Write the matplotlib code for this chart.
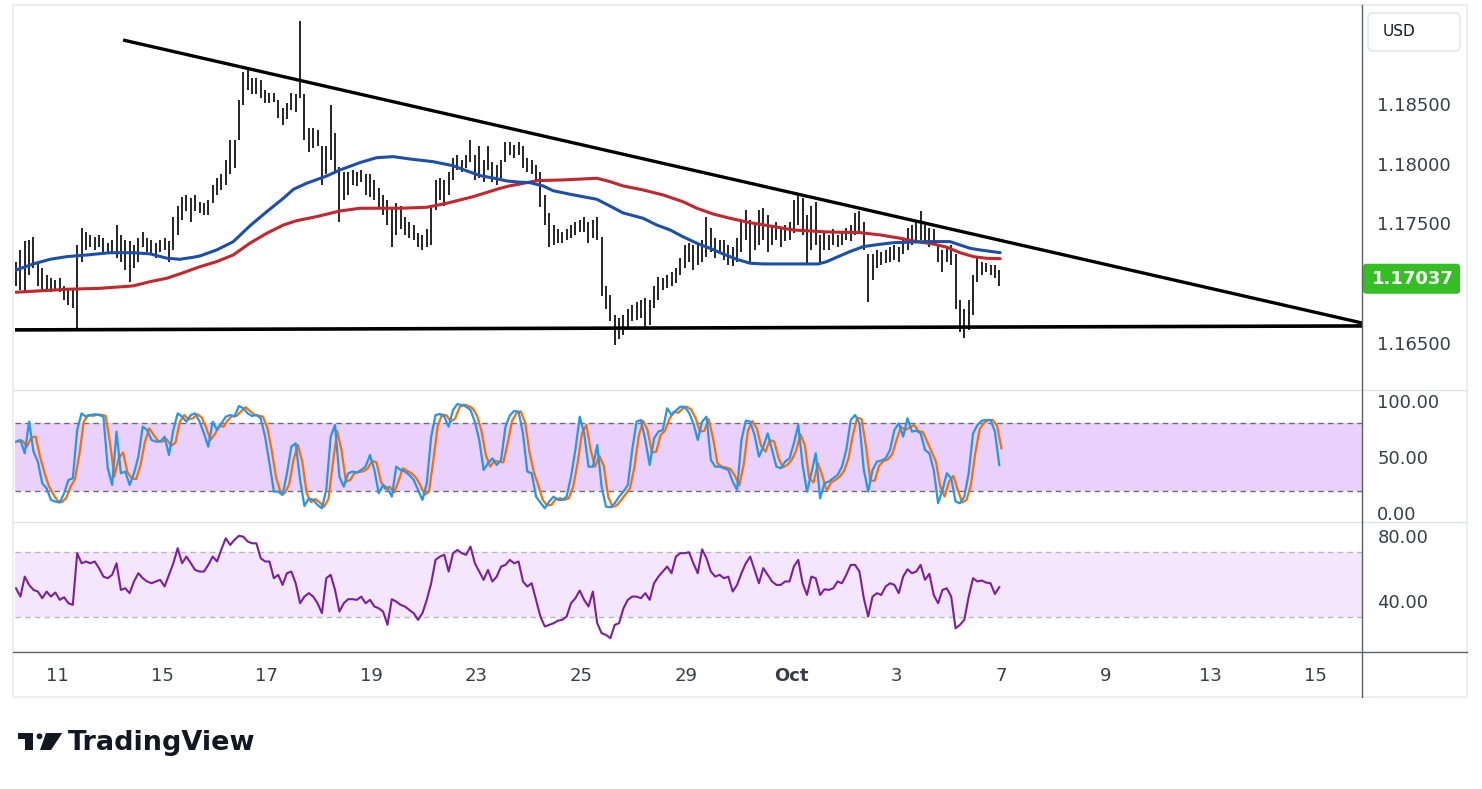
import numpy as np
import pandas as pd
import matplotlib
matplotlib.use('Agg')
import matplotlib.pyplot as plt
from matplotlib.patches import FancyBboxPatch, Rectangle, Polygon, Circle
from matplotlib.lines import Line2D
from matplotlib.transforms import IdentityTransform

# ---------------- data (2-hour bars, EUR/USD) ----------------
highs = [1.1718, 1.1728, 1.1735, 1.1736, 1.1739, 1.1718, 1.1713, 1.1707, 1.1704, 1.1703,
         1.1704, 1.1698, 1.1696, 1.1694, 1.1732, 1.1746, 1.1743, 1.1740, 1.1739, 1.1740,
         1.1738, 1.1734, 1.1736, 1.1749, 1.1740, 1.1736, 1.1735, 1.1732, 1.1738, 1.1743,
         1.1738, 1.1736, 1.1734, 1.1736, 1.1738, 1.1735, 1.1755, 1.1765, 1.1772, 1.1774,
         1.1771, 1.1774, 1.1768, 1.1767, 1.1770, 1.1782, 1.1788, 1.1791, 1.1803, 1.1820,
         1.1820, 1.1853, 1.1877, 1.1878, 1.1872, 1.1872, 1.1870, 1.1862, 1.1859, 1.1859,
         1.1853, 1.1847, 1.1851, 1.1859, 1.1858, 1.1919, 1.1858, 1.1830, 1.1830, 1.1828,
         1.1815, 1.1815, 1.1849, 1.1826, 1.1797, 1.1793, 1.1793, 1.1795, 1.1793, 1.1795,
         1.1791, 1.1791, 1.1786, 1.1780, 1.1774, 1.1770, 1.1763, 1.1767, 1.1765, 1.1755,
         1.1751, 1.1749, 1.1742, 1.1740, 1.1745, 1.1763, 1.1786, 1.1788, 1.1786, 1.1793,
         1.1805, 1.1807, 1.1803, 1.1807, 1.1820, 1.1807, 1.1815, 1.1803, 1.1815, 1.1801,
         1.1799, 1.1803, 1.1818, 1.1818, 1.1816, 1.1818, 1.1815, 1.1805, 1.1803, 1.1799,
         1.1793, 1.1774, 1.1759, 1.1749, 1.1745, 1.1743, 1.1745, 1.1749, 1.1751, 1.1753,
         1.1755, 1.1751, 1.1753, 1.1755, 1.1739, 1.1698, 1.1690, 1.1673, 1.1671, 1.1673,
         1.1678, 1.1682, 1.1684, 1.1686, 1.1688, 1.1686, 1.1698, 1.1705, 1.1704, 1.1707,
         1.1709, 1.1713, 1.1721, 1.1732, 1.1734, 1.1732, 1.1734, 1.1736, 1.1755, 1.1746,
         1.1738, 1.1736, 1.1736, 1.1732, 1.1730, 1.1738, 1.1751, 1.1761, 1.1753, 1.1749,
         1.1761, 1.1763, 1.1757, 1.1749, 1.1751, 1.1746, 1.1749, 1.1751, 1.1770, 1.1775,
         1.1771, 1.1757, 1.1765, 1.1768, 1.1740, 1.1743, 1.1740, 1.1745, 1.1740, 1.1743,
         1.1746, 1.1749, 1.1759, 1.1760, 1.1751, 1.1724, 1.1724, 1.1728, 1.1726, 1.1728,
         1.1730, 1.1732, 1.1730, 1.1736, 1.1746, 1.1749, 1.1751, 1.1760, 1.1749, 1.1746,
         1.1745, 1.1732, 1.1728, 1.1730, 1.1732, 1.1724, 1.1686, 1.1678, 1.1686, 1.1707,
         1.1721, 1.1718, 1.1717, 1.1715, 1.1715, 1.1711]

lows = [1.1698, 1.1694, 1.1693, 1.1707, 1.1713, 1.1698, 1.1694, 1.1694, 1.1693, 1.1694,
        1.1693, 1.1686, 1.1682, 1.1679, 1.1661, 1.1718, 1.1728, 1.1730, 1.1728, 1.1730,
        1.1726, 1.1724, 1.1725, 1.1721, 1.1718, 1.1711, 1.1701, 1.1713, 1.1718, 1.1730,
        1.1726, 1.1724, 1.1721, 1.1726, 1.1728, 1.1718, 1.1728, 1.1740, 1.1753, 1.1760,
        1.1751, 1.1760, 1.1759, 1.1757, 1.1757, 1.1767, 1.1774, 1.1778, 1.1782, 1.1791,
        1.1796, 1.1820, 1.1849, 1.1862, 1.1858, 1.1858, 1.1855, 1.1851, 1.1851, 1.1852,
        1.1838, 1.1832, 1.1837, 1.1845, 1.1843, 1.1855, 1.1820, 1.1810, 1.1813, 1.1815,
        1.1782, 1.1791, 1.1803, 1.1793, 1.1751, 1.1770, 1.1774, 1.1782, 1.1781, 1.1785,
        1.1774, 1.1772, 1.1770, 1.1763, 1.1757, 1.1749, 1.1730, 1.1740, 1.1745, 1.1740,
        1.1738, 1.1736, 1.1730, 1.1728, 1.1730, 1.1732, 1.1761, 1.1770, 1.1765, 1.1774,
        1.1786, 1.1795, 1.1793, 1.1796, 1.1801, 1.1786, 1.1788, 1.1785, 1.1795, 1.1785,
        1.1782, 1.1788, 1.1801, 1.1807, 1.1805, 1.1807, 1.1796, 1.1793, 1.1791, 1.1786,
        1.1764, 1.1749, 1.1730, 1.1732, 1.1734, 1.1734, 1.1736, 1.1738, 1.1740, 1.1743,
        1.1743, 1.1734, 1.1738, 1.1736, 1.1689, 1.1678, 1.1668, 1.1648, 1.1653, 1.1657,
        1.1663, 1.1668, 1.1669, 1.1671, 1.1663, 1.1665, 1.1679, 1.1686, 1.1694, 1.1696,
        1.1698, 1.1700, 1.1707, 1.1713, 1.1718, 1.1711, 1.1715, 1.1718, 1.1722, 1.1726,
        1.1721, 1.1724, 1.1719, 1.1715, 1.1714, 1.1718, 1.1726, 1.1736, 1.1718, 1.1728,
        1.1732, 1.1736, 1.1726, 1.1732, 1.1736, 1.1730, 1.1735, 1.1736, 1.1742, 1.1749,
        1.1740, 1.1717, 1.1728, 1.1732, 1.1717, 1.1728, 1.1728, 1.1732, 1.1730, 1.1732,
        1.1736, 1.1735, 1.1740, 1.1743, 1.1728, 1.1684, 1.1703, 1.1713, 1.1715, 1.1717,
        1.1718, 1.1719, 1.1718, 1.1724, 1.1728, 1.1732, 1.1736, 1.1736, 1.1735, 1.1730,
        1.1732, 1.1718, 1.1709, 1.1718, 1.1715, 1.1678, 1.1659, 1.1654, 1.1661, 1.1673,
        1.1701, 1.1707, 1.1709, 1.1707, 1.1704, 1.1698]

last_close = 1.17037

# moving averages (sampled along the bar index)
ma_fast_idx = [0, 3.97, 7.8, 11.6, 16.2, 21.5, 26.8, 30.7, 34.5, 37.5, 40.6, 42.1, 45.9, 49.7,
               53.5, 57.4, 61.2, 63.5, 66.5, 71.1, 74.1, 78.7, 82.5, 86.3, 90.2, 95.4, 100,
               103.2, 106.2, 109.2, 112.4, 115.3, 117.6, 120.6, 122.9, 126.8, 132.9, 135.9,
               138.9, 143.5, 146.6, 149.7, 152.6, 155.8, 158.8, 161.8, 164.9, 168.0, 170.9,
               183.6, 185.5, 187.8, 190.8, 193.9, 197.0, 200.8, 208.4, 213.7, 216.0, 218.3,
               220.6, 225.2]
ma_fast = [1.17110, 1.17161, 1.17200, 1.17222, 1.17236, 1.17255, 1.17255, 1.17245, 1.17209,
           1.17200, 1.17217, 1.17228, 1.17278, 1.17347, 1.17479, 1.17599, 1.17711, 1.17786,
           1.17836, 1.17897, 1.17947, 1.18009, 1.18050, 1.18059, 1.18039, 1.18017, 1.17983,
           1.17939, 1.17900, 1.17880, 1.17855, 1.17845, 1.17841, 1.17814, 1.17774, 1.17744,
           1.17702, 1.17646, 1.17588, 1.17543, 1.17487, 1.17445, 1.17389, 1.17334, 1.17292,
           1.17245, 1.17200, 1.17167, 1.17161, 1.17161, 1.17180, 1.17217, 1.17264, 1.17306,
           1.17322, 1.17339, 1.17348, 1.17348, 1.17320, 1.17292, 1.17278, 1.17255]
ma_slow_idx = [0, 11.6, 19.2, 26.8, 30.7, 34.5, 38.3, 42.1, 45.9, 49.7, 53.5, 57.4, 61.2,
               64.2, 68.8, 74.1, 78.7, 87.9, 94.0, 98.6, 104.6, 110.8, 113.0, 115.3, 119.2,
               125.2, 132.9, 135.9, 138.9, 143.5, 148.1, 152.6, 155.8, 159.5, 163.4, 168.0,
               172.5, 177.9, 185.5, 193.1, 197.7, 202.3, 206.1, 209.9, 213.0, 216.0, 219.1,
               222.1, 225.2]
ma_slow = [1.16924, 1.16949, 1.16957, 1.16977, 1.17013, 1.17041, 1.17088, 1.17138, 1.17180,
           1.17236, 1.17334, 1.17418, 1.17487, 1.17523, 1.17557, 1.17604, 1.17627, 1.17627,
           1.17635, 1.17669, 1.17724, 1.17794, 1.17815, 1.17830, 1.17858, 1.17864, 1.17878,
           1.17850, 1.17814, 1.17780, 1.17738, 1.17682, 1.17627, 1.17579, 1.17543, 1.17506,
           1.17479, 1.17445, 1.17429, 1.17423, 1.17404, 1.17376, 1.17348, 1.17328, 1.17301,
           1.17255, 1.17222, 1.17208, 1.17205]

# drawn trend lines
resist_idx = [24.5, 308.0]
resist_px = [1.19035, 1.16667]
support_idx = [-0.23, 308.0]
support_px = [1.16609, 1.16642]

# stochastic %K
stoch_k = [63.7, 65.2, 53.3, 81.5, 54.8, 45.9, 26.6, 22.1, 11.8, 10.3,
           9.4, 17.7, 29.6, 31.0, 74.1, 88.9, 85.9, 87.4, 88.0, 87.4,
           85.9, 40.0, 25.1, 72.6, 35.5, 37.0, 25.1, 35.5, 50.3, 77.0,
           74.1, 65.2, 63.7, 63.7, 68.1, 51.8, 74.1, 88.9, 85.9, 81.5,
           87.4, 88.9, 81.5, 71.1, 59.2, 81.5, 74.1, 80.0, 85.9, 87.4,
           85.9, 95.4, 93.4, 88.9, 86.5, 87.4, 84.5, 68.1, 44.4, 19.2,
           19.2, 16.2, 35.5, 59.2, 62.2, 29.6, 6.4, 13.2, 11.8, 7.3,
           4.3, 20.7, 68.1, 78.5, 32.5, 23.6, 35.5, 37.0, 36.1, 38.5,
           41.4, 51.8, 38.5, 17.7, 25.1, 22.1, 14.7, 41.4, 38.5, 37.0,
           34.0, 29.6, 20.7, 11.8, 26.6, 68.1, 87.4, 88.3, 85.9, 77.0,
           91.9, 97.2, 96.3, 94.8, 91.9, 81.5, 65.2, 38.5, 44.4, 48.8,
           42.9, 47.4, 77.0, 87.0, 91.0, 90.4, 71.1, 37.0, 35.5, 14.7,
           9.4, 4.3, 10.3, 14.7, 11.8, 11.8, 14.7, 32.5, 56.3, 85.9,
           71.1, 41.4, 41.4, 60.7, 23.6, 5.8, 5.2, 8.8, 14.7, 19.2,
           25.1, 56.3, 81.5, 83.0, 65.2, 42.9, 66.6, 72.6, 74.1, 93.4,
           87.4, 91.3, 94.8, 94.8, 89.5, 80.0, 65.2, 81.5, 85.9, 47.4,
           41.4, 41.4, 40.0, 38.5, 28.1, 20.7, 65.2, 82.4, 81.5, 69.6,
           50.3, 59.2, 71.1, 56.3, 41.4, 40.0, 45.9, 48.8, 62.2, 78.5,
           42.9, 19.2, 35.5, 53.3, 13.2, 26.6, 28.1, 31.0, 34.0, 41.4,
           56.3, 83.0, 87.4, 80.0, 38.5, 19.2, 38.5, 45.9, 46.8, 48.8,
           56.3, 74.1, 80.0, 68.1, 84.5, 72.6, 73.5, 71.1, 56.3, 53.3,
           38.5, 8.8, 20.7, 35.5, 31.0, 10.3, 8.8, 14.7, 35.5, 71.1,
           78.5, 82.4, 83.0, 83.0, 72.6, 42.9]

rsi = [47.8, 42.7, 55.0, 49.9, 46.8, 45.8, 41.7, 45.8, 42.7, 45.2,
       40.7, 42.3, 38.6, 37.6, 69.4, 63.2, 64.3, 63.2, 64.3, 60.2,
       55.0, 54.0, 56.1, 63.2, 46.8, 47.8, 44.8, 52.0, 57.1, 54.0,
       52.0, 50.9, 52.0, 53.0, 48.9, 56.1, 63.2, 72.5, 63.2, 67.3,
       63.2, 59.1, 58.1, 58.1, 62.2, 67.3, 64.3, 71.8, 78.6, 74.5,
       77.6, 80.1, 79.6, 76.6, 75.5, 75.5, 66.3, 64.3, 64.3, 54.0,
       56.1, 49.9, 57.1, 58.1, 50.9, 38.6, 42.7, 44.8, 42.7, 38.6,
       32.5, 54.0, 56.1, 46.8, 33.5, 38.6, 41.1, 41.1, 40.7, 42.7,
       38.6, 40.7, 36.6, 35.5, 33.5, 25.3, 41.1, 39.6, 37.6, 36.6,
       34.5, 32.5, 28.4, 32.5, 40.7, 50.9, 65.3, 67.3, 68.4, 58.1,
       69.4, 71.4, 69.4, 68.4, 73.5, 63.2, 58.1, 53.0, 59.1, 52.0,
       55.0, 61.2, 62.2, 65.3, 63.2, 64.3, 52.0, 48.9, 50.9, 40.7,
       30.4, 24.3, 25.3, 26.3, 27.9, 28.4, 30.4, 38.6, 41.7, 46.4,
       40.7, 36.6, 45.8, 26.3, 20.2, 19.1, 17.1, 25.3, 26.3, 35.5,
       40.7, 42.7, 42.7, 41.7, 44.8, 40.7, 50.9, 55.0, 58.1, 61.2,
       57.1, 67.3, 69.4, 69.4, 70.0, 63.2, 57.1, 71.8, 66.3, 58.1,
       55.0, 56.1, 54.0, 55.0, 45.8, 49.9, 57.1, 63.2, 67.3, 59.1,
       50.9, 60.2, 56.1, 52.0, 49.9, 49.9, 52.0, 52.0, 61.2, 65.3,
       50.9, 43.7, 55.0, 54.0, 43.7, 47.2, 46.8, 47.8, 52.0, 50.9,
       56.1, 62.2, 62.2, 58.1, 41.7, 30.4, 42.7, 44.8, 43.7, 48.9,
       50.9, 49.9, 44.8, 55.0, 59.5, 57.1, 58.1, 62.2, 53.0, 56.7,
       43.7, 38.6, 46.8, 47.8, 42.7, 23.2, 25.3, 28.4, 42.7, 54.0,
       52.0, 52.6, 51.3, 50.9, 44.3, 48.5]

x_labels = ['11', '15', '17', '19', '23', '25', '29', 'Oct', '3', '7', '9', '13', '15']
x_label_tdays = [0, 2, 4, 6, 8, 10, 12, 14, 16, 18, 20, 22, 24]   # trading days after Sep 11
first_day_bar = 9.4      # bar index where Sep 11 starts
bars_per_day = 12

# ---------------- figure ----------------
W, H = 1482, 789
fig = plt.figure(figsize=(W / 100, H / 100), dpi=100)
fig.patch.set_facecolor('white')

def fx(x):
    return x / W

def fy(y):
    return 1 - y / H

L, R = 15, 1362
ax = fig.add_axes([fx(L), fy(390), fx(R) - fx(L), fy(5) - fy(390)])
ax_st = fig.add_axes([fx(L), fy(522), fx(R) - fx(L), fy(390) - fy(522)])
ax_rs = fig.add_axes([fx(L), fy(652), fx(R) - fx(L), fy(522) - fy(652)])

idx = np.arange(len(highs))
xlim = (-0.23, 308.0)
label_color = '#3a3d45'

for a in (ax, ax_st, ax_rs):
    a.set_xlim(*xlim)
    for s in a.spines.values():
        s.set_visible(False)
    a.yaxis.tick_right()
    a.tick_params(axis='y', length=0, pad=11, labelsize=13, labelcolor=label_color)
    a.set_facecolor('none')

# main price panel
ax.set_ylim(1.16106, 1.19328)
ax.vlines(idx, lows, highs, colors='black', lw=1.2, zorder=2)
ax.plot(ma_slow_idx, ma_slow, color='#c4262b', lw=2.2, solid_capstyle='round', zorder=3)
ax.plot(ma_fast_idx, ma_fast, color='#1c4fa9', lw=2.2, solid_capstyle='round', zorder=3)
ax.plot(resist_idx, resist_px, color='black', lw=2.4, solid_capstyle='butt', zorder=4)
ax.plot(support_idx, support_px, color='black', lw=2.6, solid_capstyle='butt', zorder=4)
yt = [1.165, 1.175, 1.180, 1.185]
ax.set_yticks(yt)
ax.set_yticklabels([f'{v:.5f}' for v in yt])
ax.set_xticks([])

# stochastic panel
ax_st.set_ylim(-7.9, 109.7)
ax_st.axhspan(20, 80, color='#e9d1fb', lw=0, zorder=0)
for lv in (20, 80):
    ax_st.axhline(lv, color='#6a6d78', lw=1, dashes=(4, 3), zorder=1)
k_series = pd.Series(stoch_k)
d_series = k_series.rolling(2, min_periods=1).mean()
ax_st.plot(idx, k_series, color='#2196f3', lw=1.6, zorder=3)
ax_st.plot(idx + 0.5, d_series, color='#ff6d00', lw=1.6, zorder=2)
ax_st.set_yticks([0, 50, 100])
ax_st.set_yticklabels(['0.00', '50.00', '100.00'])
ax_st.set_xticks([])

# RSI panel
ax_rs.set_ylim(8.6, 88.6)
ax_rs.axhspan(30, 70, color='#f4e7fd', lw=0, zorder=0)
for lv in (30, 70):
    ax_rs.axhline(lv, color='#b7b9c2', lw=1, dashes=(4, 3), zorder=1)
ax_rs.plot(idx, rsi, color='#7b1fa2', lw=1.5, zorder=3)
ax_rs.set_yticks([40, 80])
ax_rs.set_yticklabels(['40.00', '80.00'])
xt = [first_day_bar + bars_per_day * d for d in x_label_tdays]
ax_rs.set_xticks(xt)
ax_rs.set_xticklabels(x_labels)
ax_rs.tick_params(axis='x', length=0, pad=11, labelsize=13, labelcolor=label_color)
for t in ax_rs.get_xticklabels():
    if t.get_text() == 'Oct':
        t.set_fontweight('bold')

# frame / separators
fig.add_artist(Rectangle((fx(13), fy(697)), fx(1467) - fx(13), fy(5) - fy(697),
                         transform=fig.transFigure, fill=False, ec='#eceef3', lw=1.5))
for yy, col in ((390, '#e0e3eb'), (522, '#e0e3eb'), (652, '#5d606b')):
    fig.add_artist(Line2D([fx(13), fx(1467)], [fy(yy), fy(yy)], transform=fig.transFigure,
                          color=col, lw=1))
fig.add_artist(Line2D([fx(1362), fx(1362)], [fy(5), fy(697)], transform=fig.transFigure,
                      color='#5d606b', lw=1))

# USD box
ident = IdentityTransform()
fig.add_artist(FancyBboxPatch((1368, H - 51), 92, 38, boxstyle='round,pad=0,rounding_size=5',
                              transform=ident, fc='white', ec='#e0e3eb', lw=1))
fig.text(fx(1383), fy(32), 'USD', fontsize=11, color='#131722', ha='left', va='center')

# last price label
fig.canvas.draw()
ydisp = ax.transData.transform((0, last_close))[1]
fig.add_artist(FancyBboxPatch((1363, ydisp - 15), 97, 30, boxstyle='round,pad=0,rounding_size=3',
                              transform=ident, fc='#34c024', ec='none'))
fig.text(fx(1413), ydisp / H, f'{last_close:.5f}', fontsize=13, fontweight='bold',
         color='white', ha='center', va='center')

# TradingView logo
logo_col = '#131722'
fig.add_artist(Polygon([(18, H - 733), (33.3, H - 733), (33.3, H - 750), (25, H - 750),
                        (25, H - 739), (18, H - 739)], closed=True, transform=ident,
                       fc=logo_col, ec='none'))
fig.add_artist(Circle((39.5, H - 736.3), 2.9, transform=ident, fc=logo_col, ec='none'))
fig.add_artist(Polygon([(46, H - 733), (62.3, H - 733), (51, H - 750), (40, H - 750)],
                       closed=True, transform=ident, fc=logo_col, ec='none'))
fig.text(fx(68), fy(750.5), 'TradingView', fontsize=19.5, fontweight='bold', color=logo_col,
         ha='left', va='baseline')

fig.savefig('out.png', dpi=100, facecolor='white')
